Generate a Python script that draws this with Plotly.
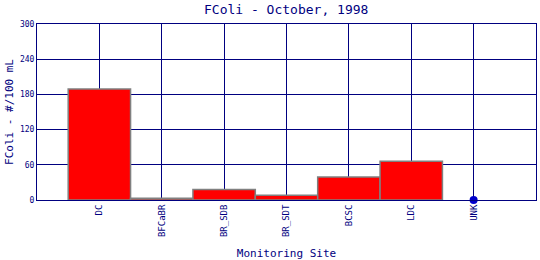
import plotly.graph_objects as go

sites = ["DC", "BFCaBR", "BR_SDB", "BR_SDT", "BCSC", "LDC", "UNK"]
fcoli = [189, 3, 18, 8, 39, 66, 0]
y_ticks = [0, 60, 120, 180, 240, 300]

navy = "#000080"
font = "DejaVu Sans Mono"
xpos = list(range(len(sites)))

bar_x = [x for x, v in zip(xpos, fcoli) if v > 0]
bar_y = [v for v in fcoli if v > 0]
dot_x = [x for x, v in zip(xpos, fcoli) if v == 0]
dot_y = [v for v in fcoli if v == 0]

fig = go.Figure()
fig.add_trace(go.Bar(x=bar_x, y=bar_y, width=1,
                     marker=dict(color="#ff0000", line=dict(color="#808080", width=1.5))))
fig.add_trace(go.Scatter(x=dot_x, y=dot_y, mode="markers", cliponaxis=False,
                         marker=dict(color="#0000cc", size=8)))

fig.update_layout(
    width=540, height=260,
    margin=dict(l=37, r=4, t=24, b=60, autoexpand=False),
    paper_bgcolor="white", plot_bgcolor="white",
    showlegend=False,
    title=dict(text="FColi - October, 1998", x=0.53, xanchor="center", y=0.965, yanchor="middle",
               font=dict(family=font, size=13, color=navy)),
    xaxis=dict(range=[-1, 7], tickmode="array", tickvals=xpos, ticktext=sites,
               tickangle=-90, showgrid=True, gridcolor=navy, gridwidth=1,
               showline=True, linecolor=navy, linewidth=1, mirror=True, ticks="",
               tickfont=dict(family=font, size=9, color=navy), zeroline=False, automargin=False,
               title=dict(text="Monitoring Site", font=dict(family=font, size=11, color=navy), standoff=14)),
    yaxis=dict(range=[0, 300], tickmode="array", tickvals=y_ticks,
               showgrid=True, gridcolor=navy, gridwidth=1,
               showline=True, linecolor=navy, linewidth=1, mirror=True, ticks="",
               tickfont=dict(family=font, size=8, color=navy), zeroline=False, automargin=False,
               title=dict(text="FColi - #/100 mL", font=dict(family=font, size=11, color=navy), standoff=4)),
)

fig.write_html("out.html")
